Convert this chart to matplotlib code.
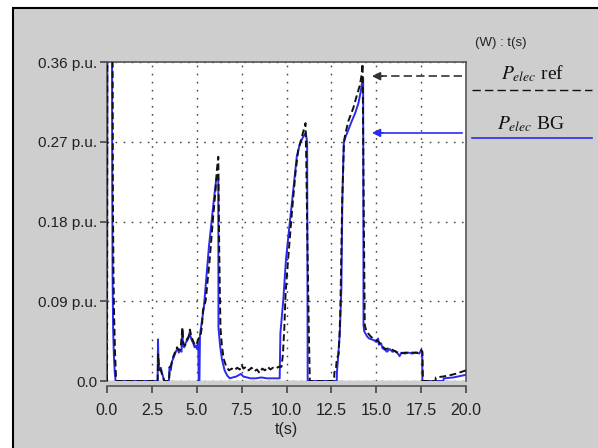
import matplotlib
matplotlib.use("Agg")
import matplotlib.pyplot as plt
from matplotlib.lines import Line2D
from matplotlib.patches import Rectangle

plt.rcParams['font.family'] = ['Liberation Sans', 'DejaVu Sans']
plt.rcParams['mathtext.fontset'] = 'stix'

# P_elec ref (black dashed), time in s and power in p.u.
t_ref = [0.0, 0.02, 0.3, 0.33, 0.36, 0.4, 0.45, 0.5, 0.55,
         2.82, 2.85, 2.9, 3.0, 3.1, 3.2, 3.45, 3.5, 3.6, 3.7, 3.8, 3.9, 4.0, 4.1, 4.2, 4.25,
         4.35, 4.45, 4.55, 4.62, 4.7, 4.8, 4.9, 5.0, 5.1, 5.2, 5.28, 5.35, 5.5, 5.72, 5.9,
         6.05, 6.12, 6.2, 6.25, 6.32, 6.4, 6.5, 6.65, 6.8, 6.95, 7.1, 7.25, 7.4, 7.5, 7.6,
         7.75, 7.9, 8.05, 8.2, 8.35, 8.5, 8.65, 8.8, 8.95, 9.1, 9.25, 9.4, 9.55, 9.72, 9.8,
         9.88, 9.95, 10.1, 10.3, 10.5, 10.65, 10.85, 11.06, 11.1, 11.17, 11.25, 11.3,
         12.65, 12.67, 12.75, 12.8, 12.9, 12.95, 13.0, 13.1, 13.2, 13.26, 13.44, 13.72,
         13.9, 14.09, 14.18, 14.24, 14.3, 14.36, 14.45, 14.7, 14.9, 15.1, 15.3, 15.5, 15.75,
         16.0, 16.3, 16.6, 17.0, 17.3, 17.5, 17.57, 17.6, 18.3, 18.32, 18.7, 19.0, 19.4,
         19.7, 20.0]
p_ref = [0.0, 0.5, 0.5, 0.2, 0.12, 0.07, 0.03, 0.005, 0.0,
         0.0, 0.03, 0.015, 0.012, 0.005, 0.0, 0.0, 0.014, 0.02, 0.028, 0.033, 0.038, 0.035,
         0.036, 0.06, 0.042, 0.04, 0.047, 0.05, 0.058, 0.05, 0.045, 0.04, 0.042, 0.048,
         0.05, 0.06, 0.08, 0.091, 0.137, 0.182, 0.216, 0.238, 0.253, 0.15, 0.06, 0.04,
         0.025, 0.016, 0.012, 0.014, 0.012, 0.015, 0.013, 0.018, 0.014, 0.016, 0.012,
         0.015, 0.011, 0.013, 0.009, 0.014, 0.012, 0.016, 0.013, 0.015, 0.014, 0.016,
         0.016, 0.03, 0.06, 0.1, 0.14, 0.19, 0.235, 0.26, 0.275, 0.291, 0.25, 0.15, 0.05,
         0.0, 0.0, 0.01, 0.012, 0.025, 0.03, 0.05, 0.08, 0.2, 0.27, 0.277, 0.293, 0.308,
         0.321, 0.334, 0.345, 0.358, 0.2, 0.063, 0.056, 0.05, 0.047, 0.045, 0.04, 0.036,
         0.037, 0.034, 0.031, 0.032, 0.032, 0.032, 0.035, 0.033, 0.0, 0.0, 0.004, 0.005,
         0.006, 0.008, 0.01, 0.012]

# P_elec BG (blue solid)
t_bg = [0.0, 0.03, 0.27, 0.29, 0.31, 0.34, 0.38, 0.43, 0.48,
        2.82, 2.84, 2.87, 2.92, 3.0, 3.08, 3.15, 3.18, 3.45, 3.48, 3.55, 3.62, 3.7, 3.78,
        3.85, 3.93, 4.0, 4.08, 4.15, 4.2, 4.23, 4.3, 4.38, 4.45, 4.53, 4.6, 4.66, 4.72,
        4.8, 4.88, 4.95, 5.02, 5.08, 5.11, 5.15, 5.18, 5.4, 5.68, 5.95, 6.08, 6.15, 6.2,
        6.21, 6.3, 6.4, 6.55, 6.7, 6.85, 7.0, 7.2, 7.45, 7.6, 7.8, 8.0, 8.3, 8.6, 8.9,
        9.2, 9.5, 9.62, 9.66, 9.82, 9.97, 10.2, 10.38, 10.57, 10.75, 10.94, 11.07, 11.15,
        11.18, 12.8, 12.81, 12.85, 12.97, 13.06, 13.11, 13.19, 13.26, 13.44, 13.63, 13.82,
        14.0, 14.13, 14.22, 14.27, 14.29, 14.33, 14.5, 14.6, 14.88, 15.0, 15.1, 15.15,
        15.27, 15.35, 15.5, 15.6, 15.75, 15.9, 16.05, 16.2, 16.3, 16.4, 16.6, 16.8, 17.0,
        17.2, 17.4, 17.5, 17.56, 17.57, 18.74, 18.76, 19.3, 20.0]
p_bg = [0.0, 0.5, 0.5, 0.24, 0.12, 0.06, 0.03, 0.01, 0.0,
        0.0, 0.047, 0.02, 0.012, 0.015, 0.008, 0.003, 0.0, 0.0, 0.016, 0.012, 0.022,
        0.026, 0.03, 0.034, 0.036, 0.032, 0.035, 0.033, 0.058, 0.04, 0.038, 0.043, 0.045,
        0.048, 0.055, 0.05, 0.046, 0.043, 0.038, 0.04, 0.036, 0.044, 0.0, 0.0, 0.052,
        0.084, 0.152, 0.204, 0.227, 0.232, 0.228, 0.06, 0.04, 0.025, 0.012, 0.006, 0.003,
        0.004, 0.005, 0.008, 0.005, 0.004, 0.003, 0.003, 0.004, 0.003, 0.003, 0.003,
        0.003, 0.054, 0.091, 0.137, 0.182, 0.216, 0.253, 0.268, 0.276, 0.28, 0.27, 0.0,
        0.0, 0.01, 0.02, 0.054, 0.106, 0.204, 0.268, 0.274, 0.283, 0.293, 0.302, 0.313,
        0.326, 0.338, 0.342, 0.063, 0.056, 0.05, 0.048, 0.046, 0.044, 0.048, 0.041,
        0.0425, 0.037, 0.035, 0.033, 0.036, 0.033, 0.034, 0.031, 0.028, 0.032, 0.031,
        0.032, 0.031, 0.032, 0.031, 0.035, 0.032, 0.0, 0.0, 0.003, 0.004, 0.007]

x_ticks = [0, 2.5, 5, 7.5, 10, 12.5, 15, 17.5, 20]
x_labels = ['0.0', '2.5', '5.0', '7.5', '10.0', '12.5', '15.0', '17.5', '20.0']
y_ticks = [0, 0.09, 0.18, 0.27, 0.36]
y_labels = ['0.0', '0.09 p.u.', '0.18 p.u.', '0.27 p.u.', '0.36 p.u.']

# arrow annotations pointing at the two traces (t, P)
arrow_ref = ((14.76, 0.344), (19.78, 0.344))
arrow_bg = ((14.76, 0.280), (19.78, 0.280))

BLUE = '#2b2bef'
GRAY = '#cecece'
W, H = 598, 448

fig = plt.figure(figsize=(W / 100, H / 100), dpi=100)
fig.patch.set_facecolor('white')
fig.patches.append(Rectangle((13 / W, -0.05), 1.1, 1 - 8 / H + 0.05, transform=fig.transFigure,
                             facecolor=GRAY, edgecolor='black', lw=1.5, zorder=-1))

ax = fig.add_axes([107 / W, 1 - 381 / H, (466 - 107) / W, (381 - 62) / H])
ax.set_zorder(2)
ax.set_facecolor('white')
ax.plot(t_bg, p_bg, color=BLUE, lw=1.4, zorder=3)
ax.plot(t_ref, p_ref, color='#111111', lw=1.4, ls=(0, (3.5, 1.8)), zorder=4)
ax.set_xlim(0, 20)
ax.set_ylim(0, 0.36)

ax.set_xticks(x_ticks)
ax.set_xticklabels(x_labels)
ax.set_yticks(y_ticks)
ax.set_yticklabels(y_labels)
ax.tick_params(axis='both', colors='#444444', labelcolor='#222222', labelsize=11,
               length=5, width=1.2, direction='out')
ax.tick_params(axis='x', pad=7, labelsize=11.5)
ax.tick_params(axis='y', pad=2)
for s in ax.spines.values():
    s.set_color('#555555')
    s.set_linewidth(1.2)
ax.spines['bottom'].set_position(('outward', 3.6))
ax.axhline(0, color='#888888', lw=1.0, zorder=2)

ax.grid(True, color='#444444', lw=1.0, ls=(0, (1.2, 4.6)))
ax.set_axisbelow(True)
ax.set_xlabel('t(s)', fontsize=11.5, color='#222222', labelpad=3)

for (head, tail), col, ls in [(arrow_ref, '#333333', (0, (5, 2.5))), (arrow_bg, BLUE, '-')]:
    ax.plot([tail[0], head[0] + 0.5], [tail[1], head[1]], color=col, lw=1.2, ls=ls, zorder=5)
    ax.annotate('', xy=head, xytext=(head[0] + 0.6, head[1]),
                arrowprops=dict(arrowstyle='-|>', color=col, lw=1.2, mutation_scale=12,
                                shrinkA=0, shrinkB=0), zorder=5)

# legend drawn beside the axes
fig.text(501 / W, 1 - 43 / H, '(W) : t(s)', fontsize=9.5, color='#222222', ha='center', va='center')
fig.text(533 / W, 1 - 74 / H, r'$P_{elec}$ ref', fontsize=14, family='Liberation Serif',
         ha='center', va='center', color='#111111')
fig.text(531 / W, 1 - 124 / H, r'$P_{elec}$ BG', fontsize=14, family='Liberation Serif',
         ha='center', va='center', color='#111111')
fig.lines.append(Line2D([472 / W, 592 / W], [1 - 90 / H] * 2, transform=fig.transFigure,
                        color='#111111', lw=1.0, ls=(0, (6, 3))))
fig.lines.append(Line2D([472 / W, 592 / W], [1 - 138 / H] * 2, transform=fig.transFigure,
                        color=BLUE, lw=1.2))

fig.savefig('out.png', dpi=100)
